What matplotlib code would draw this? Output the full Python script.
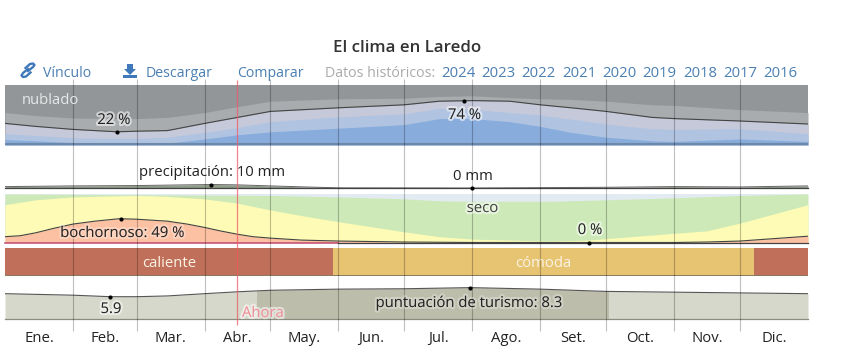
import matplotlib
matplotlib.use('Agg')
import matplotlib.pyplot as plt
import matplotlib.patheffects as pe
from matplotlib.patches import Polygon, Rectangle

W, H = 847, 351
X0, X1 = 5, 808
FS = 10.7
FS_LINK = 10.2

month_days = [0, 31, 60, 91, 121, 152, 182, 213, 244, 274, 305, 335, 366]
month_labels = ['Ene.', 'Feb.', 'Mar.', 'Abr.', 'May.', 'Jun.', 'Jul.', 'Ago.', 'Set.', 'Oct.', 'Nov.', 'Dic.']
year_labels = ['2024', '2023', '2022', '2021', '2020', '2019', '2018', '2017', '2016']
now_day = 105.7

# nubes, en %
cloud_days = [0, 14, 31, 51, 60, 74, 91, 106, 121, 152, 182, 198, 213, 230, 244, 258, 274, 295, 305, 335, 366]
cloud_top = [54, 49, 45, 44, 44, 46, 54, 64, 73, 77, 78, 81, 82, 79, 77, 76, 73, 67, 66, 59, 54]
cloud_line = [36, 31, 26, 22, 23, 24, 36, 46, 56, 62, 67, 73, 74, 73, 67, 62, 56, 46, 44, 40, 35]
cloud_third = [19, 16, 12, 11, 11, 13, 21, 29, 39, 47, 52, 61, 60, 54, 50, 43, 35, 27, 26, 27, 19]
cloud_fourth = [9, 7, 4, 3, 3, 3, 10, 17, 22, 28, 34, 44, 44, 39, 31, 21, 13, 7, 6, 10, 6]

# precipitacion, en mm
rain_days = [0, 31, 60, 94, 106, 121, 137, 152, 213, 274, 305, 335, 366]
rain_mm = [4, 6, 7, 10, 9, 6, 3, 0.5, 0, 2, 4, 3, 6]

# confort, en %
muggy_days = [0, 7, 14, 22, 31, 41, 52, 60, 74, 83, 91, 98, 106, 113, 121, 135, 152, 182, 213, 305, 320, 335, 366]
muggy = [12, 14, 20, 29, 38, 44, 49, 48, 44, 38, 31, 24, 17, 12, 9, 5, 3, 1, 0, 0, 1, 3, 13]
humid_days = [0, 7, 14, 31, 60, 74, 91, 106, 121, 137, 152, 182, 198, 213, 248, 266, 274, 305, 320, 335, 366]
humid_top = [78, 83, 88, 94, 97, 95, 90, 81, 67, 54, 43, 22, 12, 7, 3, 5, 8, 19, 24, 40, 78]
green_days = [0, 121, 152, 182, 198, 213, 248, 274, 305, 335, 366]
green_top = [100, 97, 94, 90, 86, 85, 85, 88, 92, 97, 100]

# temperatura
temp_edges = [0, 149.5, 341.4, 366]
temp_names = ['caliente', 'cómoda', '']
temp_colors = ['#c0705a', '#e6c472', '#c0705a']

# turismo
tour_days = [0, 31, 48, 60, 74, 91, 106, 121, 152, 182, 212, 244, 274, 305, 335, 366]
tour_score = [6.7, 6.3, 5.9, 5.9, 6.1, 6.7, 7.2, 7.6, 7.9, 8.0, 8.3, 7.9, 7.3, 7.1, 6.9, 6.7]
tour_peak = [114.7, 275]


def band(top, bottom, ymax):
    a = fig.add_axes([X0 / W, 1 - bottom / H, (X1 - X0) / W, (bottom - top) / H])
    a.set_xlim(0, 366)
    a.set_ylim(0, ymax)
    a.axis('off')
    return a


def halo(t, alpha=0.55):
    t.set_path_effects([pe.withStroke(linewidth=3, foreground='white', alpha=alpha)])
    return t


plt.rcParams['font.family'] = ['Open Sans', 'DejaVu Sans']
fig = plt.figure(figsize=(W / 100, H / 100), dpi=100, facecolor='white')

# nubes
ax = band(85, 145, 100)
ax.axhspan(0, 100, color='#929699', lw=0)
ax.fill_between(cloud_days, cloud_top, color='#a8acaf', lw=0)
ax.fill_between(cloud_days, cloud_line, color='#c5c9d9', lw=0)
ax.fill_between(cloud_days, cloud_third, color='#b0c4e2', lw=0)
ax.fill_between(cloud_days, cloud_fourth, color='#88acdc', lw=0)
ax.plot(cloud_days, cloud_line, color='#444', lw=0.8)
ax.plot([0, 366], [1, 1], color='#6e88a8', lw=1.5)
ax.plot([51, 209], [22, 74], 'o', color='black', ms=3, mew=0, clip_on=False)

# lluvia
ax = band(155, 188, 33 / 0.35)
ax.fill_between(rain_days, rain_mm, color='#8f9c8a', lw=0)
ax.plot(rain_days, rain_mm, color='#666', lw=0.7)
ax.plot([0, 366], [0, 0], color='#444', lw=0.9, clip_on=False)
ax.plot([94, 213], [10, 0], 'o', color='black', ms=3, mew=0, clip_on=False)

# confort
ax = band(194, 242.5, 100)
ax.axhspan(0, 100, color='#e3ebf2', lw=0)
ax.fill_between(green_days, green_top, color='#cde9b8', lw=0)
ax.fill_between(humid_days, humid_top, color='#fdfbb5', lw=0)
ax.fill_between(muggy_days, muggy, color='#fcc0a2', lw=0)
ax.plot(muggy_days, muggy, color='#444', lw=0.8)
ax.plot([0, 152], [0, 0], color='#c0486e', lw=1.1, clip_on=False)
ax.plot([152, 366], [0, 0], color='#444', lw=0.9, clip_on=False)
ax.plot([53, 266], [49, 0], 'o', color='black', ms=3, mew=0, clip_on=False)

# temperatura
ax = band(248.3, 275.7, 1)
for i in range(len(temp_names)):
    ax.axvspan(temp_edges[i], temp_edges[i + 1], color=temp_colors[i], lw=0)
    if temp_names[i]:
        ax.text((temp_edges[i] + temp_edges[i + 1]) / 2, 0.31, temp_names[i],
                color='#fdf3e4', fontsize=FS, ha='center', va='baseline')
ax.plot([0, 366], [0.02, 0.02], color='#8a7a60', lw=0.7)

# turismo
ax = band(285, 319, 34 / 3.78)
ax.fill_between(tour_days, tour_score, color='#d5d8ca', lw=0)
poly = ax.fill_between(tour_days, tour_score, color='#bdbdab', lw=0)
poly.set_clip_path(Rectangle((tour_peak[0], 0), tour_peak[1] - tour_peak[0], 9, transform=ax.transData))
ax.plot(tour_days, tour_score, color='#555', lw=0.8)
ax.plot([0, 366], [0, 0], color='#8a8c80', lw=0.9, clip_on=False)
ax.plot([48, 212], [5.9, 8.3], 'o', color='black', ms=3, mew=0, clip_on=False)

# lineas de los meses y Ahora
ax = band(0, H, H)
ax.invert_yaxis()
ax.vlines(month_days[1:-1], 79, 331, color='black', alpha=0.25, lw=0.8)
ax.vlines(now_day, 80, 325, color='#f05a68', alpha=0.75, lw=0.9)
for i in range(12):
    ax.text((month_days[i] + month_days[i + 1]) / 2, 342, month_labels[i],
            color='#222', fontsize=FS, ha='center', va='baseline')

# textos sueltos, en pixeles
top = fig.add_axes([0, 0, 1, 1])
top.set_xlim(0, W)
top.set_ylim(H, 0)
top.axis('off')
top.patch.set_alpha(0)
top.text(407, 52, 'El clima en Laredo', color='#333', fontsize=12.2, fontweight='semibold', ha='center', va='baseline')
link = '#4a7fb2'
top.text(43, 77, 'Vínculo', color=link, fontsize=FS_LINK, va='baseline')
top.text(146, 77, 'Descargar', color=link, fontsize=FS_LINK, va='baseline')
top.text(237, 77, 'Comparar', color=link, fontsize=FS_LINK, va='baseline')
top.text(325, 77, 'Datos históricos:', color='#aaaaaa', fontsize=FS_LINK, va='baseline')
for i, y in enumerate(year_labels):
    top.text(458 + 40.3 * i, 77, y, color=link, fontsize=FS, ha='center', va='baseline')
# iconos
top.plot([28, 33, 34.5, 33, 30, 25.5], [71, 67, 65, 63.5, 64, 68], color='#3f78bb', lw=1.7)
top.plot([28, 23, 21.5, 23, 26, 30.5], [69, 73, 75.5, 77, 76.5, 72.5], color='#3f78bb', lw=1.7)
top.add_patch(Polygon([[127, 64], [133, 64], [133, 69], [136, 69], [130, 75], [124, 69], [127, 69]], color='#3f78bb', lw=0))
top.add_patch(Rectangle((123, 75), 14, 3, color='#3f78bb', lw=0))

top.text(21.5, 104, 'nublado', color='#e8e8e8', fontsize=FS, va='baseline')
halo(top.text(114, 124, '22 %', color='#222', fontsize=FS, ha='center', va='baseline'))
halo(top.text(464.5, 119, '74 %', color='#222', fontsize=FS, ha='center', va='baseline'))
top.text(139, 176, 'precipitación: 10 mm', color='#222', fontsize=FS, va='baseline')
top.text(473, 180, '0 mm', color='#222', fontsize=FS, ha='center', va='baseline')
halo(top.text(482.5, 212, 'seco', color='#444', fontsize=FS, ha='center', va='baseline'))
halo(top.text(122.5, 237, 'bochornoso: 49 %', color='#222', fontsize=FS, ha='center', va='baseline'), 0.3)
halo(top.text(590, 234, '0 %', color='#222', fontsize=FS, ha='center', va='baseline'))
halo(top.text(111, 313, '5.9', color='#222', fontsize=FS, ha='center', va='baseline'))
halo(top.text(469, 307, 'puntuación de turismo: 8.3', color='#222', fontsize=FS, ha='center', va='baseline'), 0.3)
halo(top.text(242, 317, 'Ahora', color='#ee8f97', fontsize=FS, va='baseline'))

fig.savefig('out.png', dpi=100)
